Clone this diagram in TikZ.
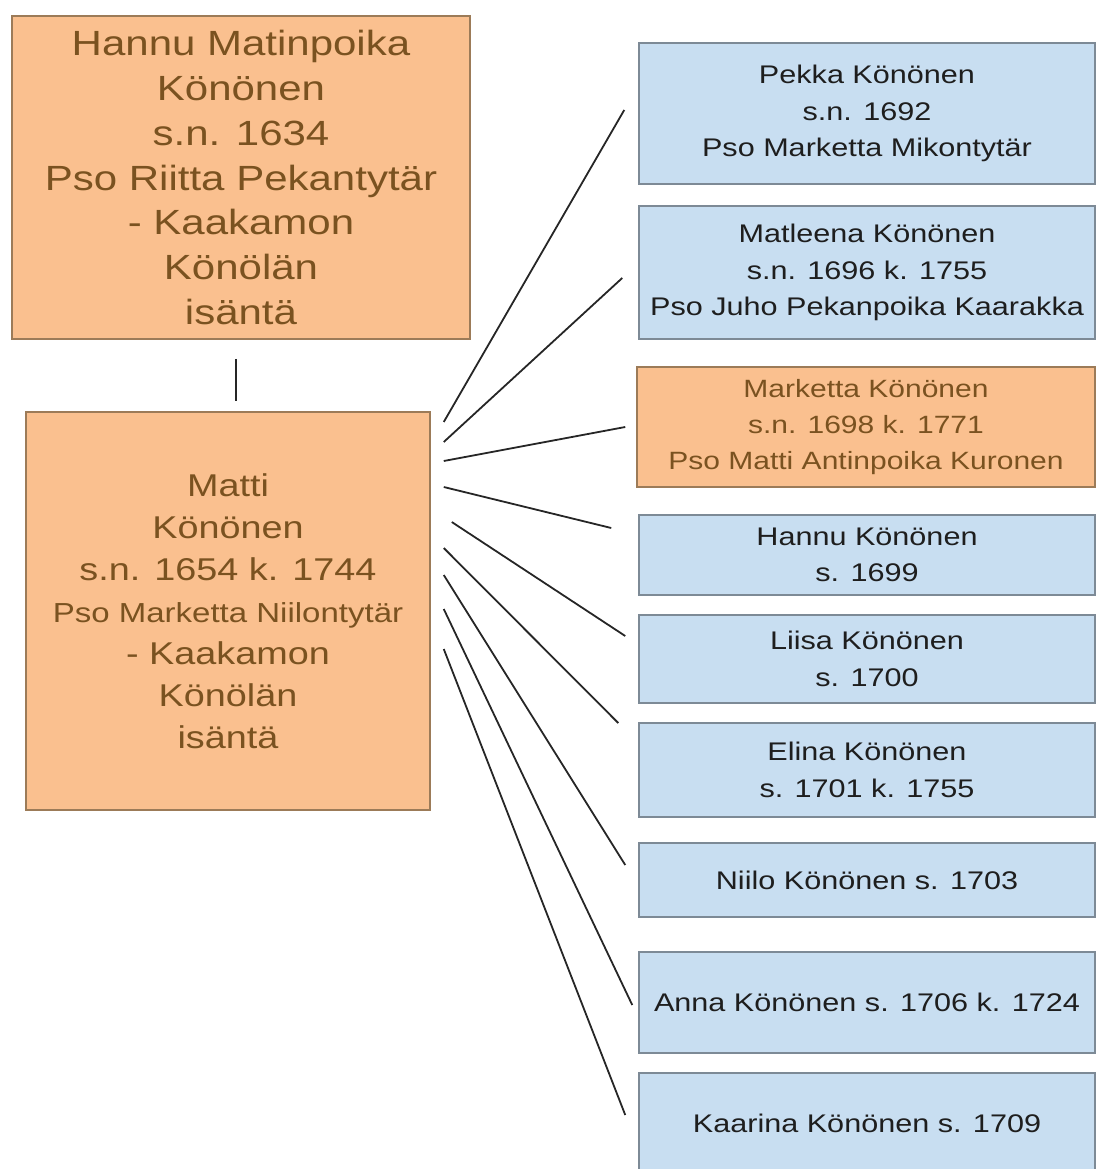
\documentclass[tikz,border=0pt]{standalone}
\usepackage{fontspec}
\setmainfont{Liberation Sans}[FakeStretch=1.2]
\definecolor{orfill}{HTML}{FAC08F}
\definecolor{ordraw}{HTML}{9C7B58}
\definecolor{ortext}{HTML}{7A5220}
\definecolor{blfill}{HTML}{C8DEF1}
\definecolor{bldraw}{HTML}{7D8A96}
\definecolor{bltext}{HTML}{1E1E1E}
\definecolor{linecol}{HTML}{262626}
\begin{document}
\begin{tikzpicture}[x=1pt,y=-1pt,
  orbox/.style={draw=ordraw,fill=orfill,text=ortext,line width=1.5pt,inner sep=0pt,align=center},
  blbox/.style={draw=bldraw,fill=blfill,text=bltext,line width=1.5pt,inner sep=0pt,align=center,
     minimum width=456pt,font=\fontsize{25.5}{36.5}\selectfont},
  conn/.style={draw=linecol,line width=1.8pt}]
\useasboundingbox (0,0) rectangle (1096,1169);
\clip (0,0) rectangle (1096,1169);
% parents
\node[orbox,minimum width=458pt,minimum height=323pt,font=\fontsize{35}{44.7}\selectfont]
  (hannu0) at (241,177.5) {Hannu Matinpoika\\Könönen\\s.n. 1634\\Pso Riitta Pekantytär\\- Kaakamon\\Könölän\\isäntä};
\node[orbox,minimum width=404pt,minimum height=398pt,font=\fontsize{31.5}{42}\selectfont]
  (matti) at (228,611) {Matti\\Könönen\\s.n. 1654 k. 1744\\{\fontsize{27.5}{42}\selectfont Pso Marketta Niilontytär}\\- Kaakamon\\Könölän\\isäntä};
% children
\node[blbox,minimum height=141pt] (pekka) at (867,113.5) {Pekka Könönen\\s.n. 1692\\Pso Marketta Mikontytär};
\node[blbox,minimum height=133pt] (matleena) at (867,272.5) {Matleena Könönen\\s.n. 1696 k. 1755\\Pso Juho Pekanpoika Kaarakka};
\node[orbox,minimum width=458pt,minimum height=120pt,font=\fontsize{25}{36}\selectfont] (marketta) at (866,427) {Marketta Könönen\\s.n. 1698 k. 1771\\Pso Matti Antinpoika Kuronen};
\node[blbox,minimum height=80pt] (hannu) at (867,555) {Hannu Könönen\\s. 1699};
\node[blbox,minimum height=88pt] (liisa) at (867,659) {Liisa Könönen\\s. 1700};
\node[blbox,minimum height=94pt] (elina) at (867,770) {Elina Könönen\\s. 1701 k. 1755};
\node[blbox,minimum height=74pt] (niilo) at (867,880) {Niilo Könönen s. 1703};
\node[blbox,minimum height=101pt] (anna) at (867,1002.5) {Anna Könönen s. 1706 k. 1724};
\node[blbox,minimum height=100pt] (kaarina) at (867,1123) {Kaarina Könönen s. 1709};
% connectors
\draw[conn] ([shift={(-5,19)}]hannu0.south) -- ([shift={(8,-10)}]matti.north);
\draw[conn] ([shift={(13,-189)}]matti.east) -- ([shift={(-14,-3.5)}]pekka.west);
\draw[conn] ([shift={(13,-169)}]matti.east) -- ([shift={(-16,5.5)}]matleena.west);
\draw[conn] ([shift={(13,-150)}]matti.east) -- ([shift={(-11,0)}]marketta.west);
\draw[conn] ([shift={(13,-124)}]matti.east) -- ([shift={(-27,-27)}]hannu.west);
\draw[conn] ([shift={(21,-89)}]matti.east) -- ([shift={(-13,-23)}]liisa.west);
\draw[conn] ([shift={(13,-63)}]matti.east) -- ([shift={(-20,-47)}]elina.west);
\draw[conn] ([shift={(13,-36)}]matti.east) -- ([shift={(-13,-15)}]niilo.west);
\draw[conn] ([shift={(13,-2)}]matti.east) -- ([shift={(-6,2.5)}]anna.west);
\draw[conn] ([shift={(13,38)}]matti.east) -- ([shift={(-13,-8)}]kaarina.west);
\end{tikzpicture}
\end{document}
